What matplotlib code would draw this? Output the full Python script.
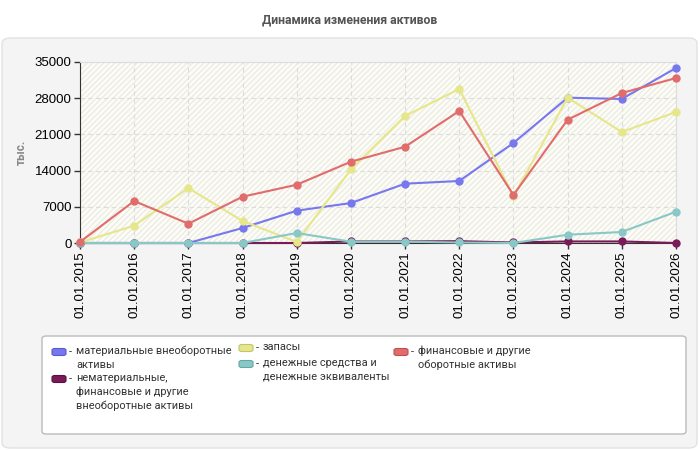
import matplotlib
matplotlib.use("Agg")
import matplotlib.pyplot as plt
from matplotlib.patches import FancyBboxPatch, Rectangle

plt.rcParams['font.family'] = ['Liberation Sans', 'DejaVu Sans']
NARROW = ['Roboto', 'Liberation Sans', 'DejaVu Sans']

dates = ["01.01.2015", "01.01.2016", "01.01.2017", "01.01.2018", "01.01.2019",
         "01.01.2020", "01.01.2021", "01.01.2022", "01.01.2023", "01.01.2024",
         "01.01.2025", "01.01.2026"]

material = [0, 0, 0, 2900, 6250, 7730, 11470, 11990, 19340, 28100, 27850, 33840]
intangible = [0, 0, 0, 0, 0, 300, 300, 350, 100, 300, 300, 0]
stocks = [100, 3350, 10630, 4250, 200, 14230, 24560, 29780, 9010, 28100, 21460, 25330]
cash = [0, 0, 0, 0, 1930, 250, 250, 100, 0, 1600, 2130, 6050]
fin_current = [200, 8120, 3730, 8950, 11270, 15720, 18620, 25520, 9280, 23840, 29000, 31900]

yticks = [0, 7000, 14000, 21000, 28000, 35000]

labels = ["материальные внеоборотные\nактивы",
          "нематериальные,\nфинансовые и другие\nвнеоборотные активы",
          "запасы",
          "денежные средства и\nденежные эквиваленты",
          "финансовые и другие\nоборотные активы"]
colors = ["#7777ee", "#7a1a58", "#e6e68a", "#88c8c6", "#e06c6c"]
edges = ["#5a5acc", "#5a1040", "#c4c468", "#66a6a4", "#c05050"]
values = [material, intangible, stocks, cash, fin_current]

fig = plt.figure(figsize=(7, 4.5), dpi=100)
fig.patch.set_facecolor("white")

# outer panel
panel = FancyBboxPatch((2 / 700, 2 / 450), 695 / 700, 410 / 450,
                       boxstyle="round,pad=0,rounding_size=0.012",
                       transform=fig.transFigure, facecolor="#f4f4f4",
                       edgecolor="#e2e2e2", linewidth=1, zorder=-10)
fig.patches.append(panel)

fig.text(0.5, 1 - 20 / 450, "Динамика изменения активов", ha="center", va="center",
         fontsize=8.8, fontweight="bold", color="#555555", family=NARROW)

ax = fig.add_axes([80 / 700, 1 - 243 / 450, 596 / 700, 181 / 450])
ax.set_zorder(2)
ax.set_facecolor("#fdfdf4")
ax.add_patch(Rectangle((0, 0), 1, 1, transform=ax.transAxes, facecolor="none",
                       edgecolor="#ebebeb", hatch="//////", linewidth=0, zorder=0))

x = list(range(len(dates)))
for vals, col in zip(values, colors):
    ax.plot(x, vals, color=col, linewidth=1.5, marker="o", markersize=5,
            markerfacecolor=col, markeredgecolor=col, zorder=3, clip_on=False)

ax.set_xlim(0, len(dates) - 1)
ax.set_ylim(0, 35000)
ax.set_xticks(x)
ax.set_xticklabels(dates, rotation=90, fontsize=9.5)
ax.set_yticks(yticks)
ax.set_yticklabels([str(v) for v in yticks], fontsize=9.5)
ax.tick_params(axis="both", length=4, width=1, color="#333333", pad=2)
ax.grid(True, linestyle=(0, (4, 3)), color="#dcdcdc", linewidth=0.8)
ax.set_axisbelow(True)
for s in ["top", "right"]:
    ax.spines[s].set_color("#dddddd")
for s in ["left", "bottom"]:
    ax.spines[s].set_color("#333333")
ax.set_ylabel("тыс.", fontsize=8.5, fontweight="bold", color="#888888", labelpad=5,
              family=NARROW)

# legend frame
frame = FancyBboxPatch((42 / 700, 1 - 434 / 450), 644 / 700, 98 / 450,
                       boxstyle="round,pad=0,rounding_size=0.006",
                       transform=fig.transFigure, facecolor="white",
                       edgecolor="#bbbbbb", linewidth=1, zorder=1)
fig.patches.append(frame)

# legend entries: (patch left x, first line center y) in pixels
spots = [(52, 352), (52, 379), (239, 348), (239, 364), (394, 352)]
for (px, py), lab, col, ed in zip(spots, labels, colors, edges):
    sw = FancyBboxPatch((px / 700, 1 - (py + 3.5) / 450), 14 / 700, 7 / 450,
                        boxstyle="round,pad=0,rounding_size=0.004",
                        transform=fig.transFigure, facecolor=col,
                        edgecolor=ed, linewidth=0.8, zorder=3)
    fig.patches.append(sw)
    fig.text((px + 17) / 700, 1 - py / 450, "-", ha="left", va="center",
             fontsize=7.9, color="#333333", family=NARROW, zorder=3)
    fig.text((px + 24) / 700, 1 - (py - 6) / 450, lab, ha="left", va="top",
             fontsize=7.9, color="#333333", family=NARROW, linespacing=1.4,
             zorder=3)

fig.savefig("out.png", dpi=100)
